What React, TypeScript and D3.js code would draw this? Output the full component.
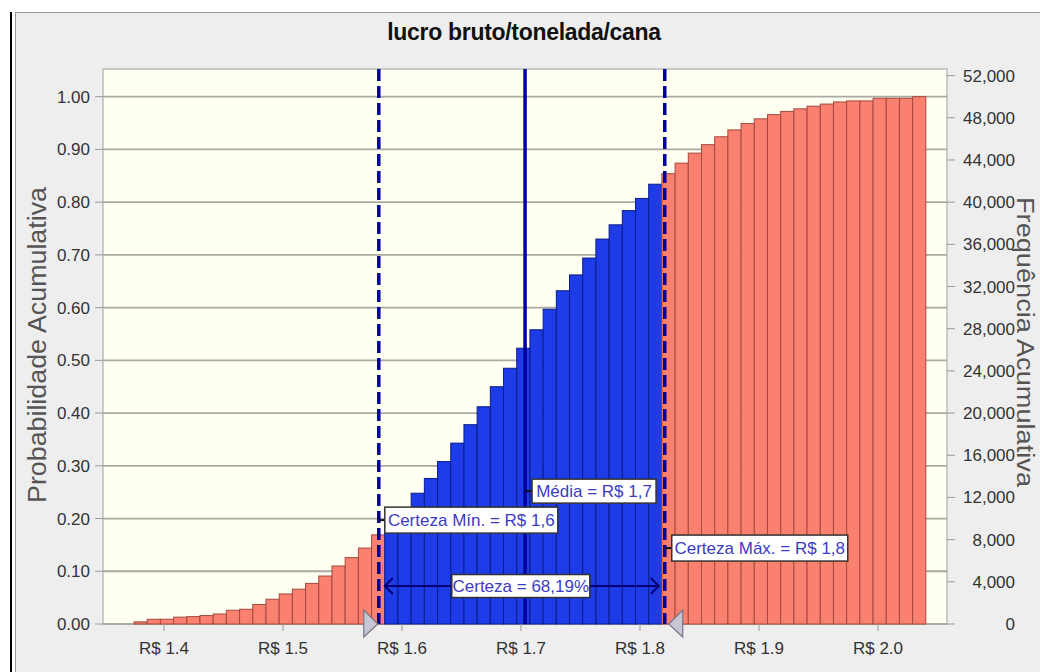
import { useMemo } from "react";
import * as d3 from "d3";

const WIDTH = 1040;
const HEIGHT = 672;
const FONT = "'Liberation Sans', Arial, sans-serif";

// plot box inside the panel
const PLOT = { left: 103, right: 947, top: 69, bottom: 624 };

const title = "lucro bruto/tonelada/cana";
const leftAxisTitle = "Probabilidade Acumulativa";
const rightAxisTitle = "Frequência Acumulativa";

// histogram: first bin edge, bin width, cumulative probability per bin
const binStart = 1.3748;
const binWidth = 0.01109;
const cumulative = [
  0.004, 0.009, 0.009, 0.013, 0.014, 0.016, 0.019, 0.026, 0.028, 0.037,
  0.047, 0.057, 0.066, 0.077, 0.091, 0.11, 0.126, 0.144, 0.169,
  0.192, 0.218, 0.248, 0.276, 0.308, 0.343, 0.378, 0.412, 0.45, 0.485,
  0.523, 0.558, 0.597, 0.632, 0.662, 0.694, 0.73, 0.757, 0.784, 0.807, 0.834,
  0.854, 0.874, 0.893, 0.909, 0.924, 0.937, 0.949, 0.958, 0.966, 0.972,
  0.977, 0.982, 0.986, 0.99, 0.992, 0.992, 0.997, 0.997, 0.997, 1.0,
];
const trials = 50000;

const certMin = 1.5805;
const certMax = 1.8208;
const mean = 1.7034;

const minLabel = "Certeza Mín. = R$ 1,6";
const maxLabel = "Certeza Máx. = R$ 1,8";
const meanLabel = "Média = R$ 1,7";
const certaintyLabel = "Certeza = 68,19%";

const xTicks = [1.4, 1.5, 1.6, 1.7, 1.8, 1.9, 2.0];
const xTickLabels = ["R$ 1.4", "R$ 1.5", "R$ 1.6", "R$ 1.7", "R$ 1.8", "R$ 1.9", "R$ 2.0"];
const probTicks = [0, 0.1, 0.2, 0.3, 0.4, 0.5, 0.6, 0.7, 0.8, 0.9, 1.0];
const freqTicks = [0, 4000, 8000, 12000, 16000, 20000, 24000, 28000, 32000, 36000, 40000, 44000, 48000, 52000];

const RED = "#fa8070";
const RED_EDGE = "#a4493e";
const BLUE = "#1d3be6";
const BLUE_EDGE = "#0c1d8a";
const NAVY = "#00009c";
const LABEL_TXT = "#3b3bc4";

const Label = ({ x, y, w, h, text }: { x: number; y: number; w: number; h: number; text: string }) => (
  <g>
    <rect x={x} y={y - h / 2} width={w} height={h} fill="#fff" stroke="#333" strokeWidth={1.5} />
    <text x={x + w / 2} y={y + 6} textAnchor="middle" fontSize={17} fill={LABEL_TXT} fontFamily={FONT}>
      {text}
    </text>
  </g>
);

export default function App() {
  const x = useMemo(
    () => d3.scaleLinear().domain([1.34874, 2.05798]).range([PLOT.left, PLOT.right]),
    []
  );
  const yP = useMemo(
    () => d3.scaleLinear().domain([0, 1.0525]).range([PLOT.bottom, PLOT.top]),
    []
  );
  const yF = useMemo(
    () => d3.scaleLinear().domain([0, 1.0525 * trials]).range([PLOT.bottom, PLOT.top]),
    []
  );

  const bars = useMemo(
    () =>
      cumulative.map((p, i) => {
        const lo = binStart + i * binWidth;
        const hi = lo + binWidth;
        return { lo, hi, p, inside: lo >= certMin && hi <= certMax };
      }),
    []
  );

  const xMin = x(certMin);
  const xMax = x(certMax);
  const xMean = x(mean);
  const yArrow = yP(0.072);

  return (
    <svg width={WIDTH} height={HEIGHT} style={{ position: "absolute", left: 0, top: 0, background: "#fff" }}>
      {/* outer frame */}
      <line x1={11} x2={11} y1={12} y2={HEIGHT} stroke="#000" strokeWidth={2} />
      <rect x={15.5} y={12.5} width={WIDTH} height={HEIGHT} fill="#eeeeee" stroke="#9a9a9a" />

      <text x={524} y={40} textAnchor="middle" fontSize={23} fontWeight="bold" fill="#111" fontFamily={FONT} letterSpacing={-0.3}>
        {title}
      </text>

      {/* plot background */}
      <rect x={PLOT.left} y={PLOT.top} width={PLOT.right - PLOT.left} height={PLOT.bottom - PLOT.top} fill="#fffff2" stroke="#a0a0a0" />

      {probTicks.map((t) => (
        <line key={t} x1={PLOT.left} x2={PLOT.right} y1={yP(t)} y2={yP(t)} stroke="#aaaaa4" strokeWidth={1.8} />
      ))}

      {/* bars */}
      {bars.map((b, i) => (
        <rect
          key={i}
          x={x(b.lo)}
          y={yP(b.p)}
          width={x(b.hi) - x(b.lo)}
          height={PLOT.bottom - yP(b.p)}
          fill={b.inside ? BLUE : RED}
          stroke={b.inside ? BLUE_EDGE : RED_EDGE}
          strokeWidth={1}
        />
      ))}

      {/* certainty and mean lines */}
      <line x1={xMin} x2={xMin} y1={PLOT.top} y2={PLOT.bottom} stroke={NAVY} strokeWidth={3.5} strokeDasharray="12 5" />
      <line x1={xMax} x2={xMax} y1={PLOT.top} y2={PLOT.bottom} stroke={NAVY} strokeWidth={3.5} strokeDasharray="12 5" />
      <line x1={xMean} x2={xMean} y1={PLOT.top} y2={PLOT.bottom} stroke={NAVY} strokeWidth={3.5} />

      {/* certainty arrow */}
      <line x1={xMin + 6} x2={xMax - 6} y1={yArrow} y2={yArrow} stroke="#00007a" strokeWidth={2} />
      <path d={`M${xMin + 14},${yArrow - 8} L${xMin + 6},${yArrow} L${xMin + 14},${yArrow + 8}`} fill="none" stroke="#00007a" strokeWidth={2} />
      <path d={`M${xMax - 14},${yArrow - 8} L${xMax - 6},${yArrow} L${xMax - 14},${yArrow + 8}`} fill="none" stroke="#00007a" strokeWidth={2} />
      <Label x={xMin + 73} y={yArrow} w={138} h={23} text={certaintyLabel} />

      {/* connectors + labels */}
      <line x1={xMin} x2={xMin + 6} y1={yP(0.197)} y2={yP(0.197)} stroke="#111" strokeWidth={2} />
      <Label x={xMin + 6} y={yP(0.197)} w={173} h={26} text={minLabel} />
      <line x1={xMean} x2={xMean + 7} y1={yP(0.252)} y2={yP(0.252)} stroke="#111" strokeWidth={2} />
      <Label x={xMean + 7} y={yP(0.252)} w={124} h={24} text={meanLabel} />
      <line x1={xMax} x2={xMax + 7} y1={yP(0.144)} y2={yP(0.144)} stroke="#111" strokeWidth={2} />
      <Label x={xMax + 7} y={yP(0.144)} w={176} h={26} text={maxLabel} />

      {/* sliders */}
      <path
        d={`M${xMin - 15},${PLOT.bottom - 14} L${xMin - 1},${PLOT.bottom} L${xMin - 15},${PLOT.bottom + 13} Z`}
        fill="#c6c6d4"
        stroke="#777786"
        strokeWidth={1.2}
      />
      <path
        d={`M${xMax + 18},${PLOT.bottom - 14} L${xMax + 4},${PLOT.bottom} L${xMax + 18},${PLOT.bottom + 13} Z`}
        fill="#c6c6d4"
        stroke="#777786"
        strokeWidth={1.2}
      />

      {/* left axis */}
      {probTicks.map((t) => (
        <g key={t}>
          <line x1={PLOT.left - 8} x2={PLOT.left} y1={yP(t)} y2={yP(t)} stroke="#999" />
          <text x={PLOT.left - 13} y={yP(t) + 6} textAnchor="end" fontSize={17} fill="#333" fontFamily={FONT}>
            {t.toFixed(2)}
          </text>
        </g>
      ))}

      {/* right axis */}
      {freqTicks.map((t) => (
        <g key={t}>
          <line x1={PLOT.right} x2={PLOT.right + 8} y1={yF(t)} y2={yF(t)} stroke="#999" />
          <text x={1015} y={yF(t) + 6} textAnchor="end" fontSize={17} fill="#333" fontFamily={FONT}>
            {d3.format(",")(t)}
          </text>
        </g>
      ))}

      {/* bottom axis */}
      {xTicks.map((t, i) => (
        <g key={t}>
          <line x1={x(t)} x2={x(t)} y1={PLOT.bottom} y2={PLOT.bottom + 7} stroke="#999" />
          <text x={x(t)} y={PLOT.bottom + 30} textAnchor="middle" fontSize={17} fill="#333" fontFamily={FONT}>
            {xTickLabels[i]}
          </text>
        </g>
      ))}

      <text
        transform={`translate(46,345) rotate(-90)`}
        textAnchor="middle"
        fontSize={26}
        fill="#555"
        fontFamily={FONT}
        textLength={316}
        lengthAdjust="spacingAndGlyphs"
      >
        {leftAxisTitle}
      </text>
      <text
        transform={`translate(1017,342) rotate(90)`}
        textAnchor="middle"
        fontSize={23}
        fill="#555"
        fontFamily={FONT}
        textLength={290}
        lengthAdjust="spacingAndGlyphs"
      >
        {rightAxisTitle}
      </text>
    </svg>
  );
}
